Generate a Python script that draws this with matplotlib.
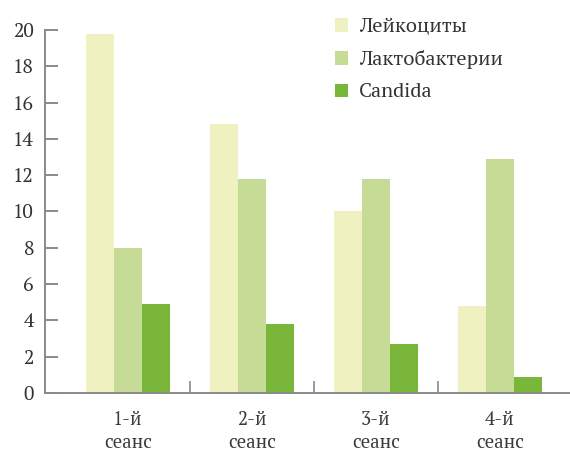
import matplotlib
matplotlib.use("Agg")
import matplotlib.pyplot as plt
import numpy as np

categories = ["1-й\nсеанс", "2-й\nсеанс", "3-й\nсеанс", "4-й\nсеанс"]
series_names = ["Лейкоциты", "Лактобактерии", "Candida"]
leukocytes = [19.8, 14.8, 10.0, 4.8]
lactobacteria = [8.0, 11.8, 11.8, 12.9]
candida = [4.9, 3.8, 2.7, 0.9]
y_ticks = [0, 2, 4, 6, 8, 10, 12, 14, 16, 18, 20]

colors = ["#f0f1c0", "#c6dc96", "#7ab63a"]
series = [leukocytes, lactobacteria, candida]

plt.rcParams['font.family'] = ['PT Serif', 'Noto Serif', 'DejaVu Serif']

fig = plt.figure(figsize=(5.7, 4.54), dpi=100)
ax = fig.add_axes([0.079, 0.1344, 0.921, 1 - 30/454 - 0.1344])

x = np.arange(len(categories))
w = 0.226
for i, (vals, name, c) in enumerate(zip(series, series_names, colors)):
    ax.bar(x + (i - 1) * w, vals, width=w, color=c, label=name, edgecolor='none')

ax.set_xlim(-0.669, 3.565)
ax.set_ylim(0, 20)
ax.set_yticks(y_ticks)
ax.set_xticks(x)
ax.set_xticklabels(categories, fontsize=13.5, color="#3a3a3a", linespacing=1.35)
ax.set_xticks([0.5, 1.5, 2.5], minor=True)

for s in ['top', 'right']:
    ax.spines[s].set_visible(False)
for s in ['left', 'bottom']:
    ax.spines[s].set_color("#8a8a8a")
    ax.spines[s].set_linewidth(1.4)

ax.tick_params(axis='y', direction='in', length=9.5, width=1.4, color="#8a8a8a",
               labelsize=14, labelcolor="#333333", pad=8)
ax.tick_params(axis='x', which='major', length=0, pad=13)
ax.tick_params(axis='x', which='minor', direction='in', length=9, width=1.2, color="#8a8a8a")

leg = fig.legend(loc='upper left', bbox_to_anchor=(0.556, 1.0), frameon=False,
                 fontsize=14.5, handlelength=0.65, handleheight=0.65,
                 labelspacing=0.7, handletextpad=0.55)
for t in leg.get_texts():
    t.set_color("#333333")

fig.savefig("out.png", dpi=100)
